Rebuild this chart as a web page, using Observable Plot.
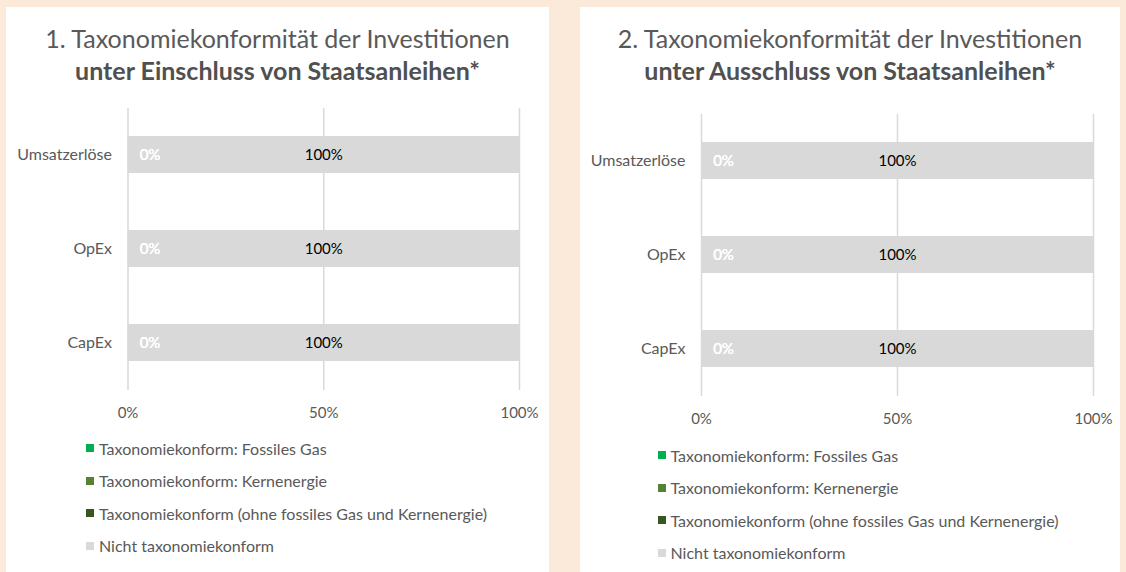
<!DOCTYPE html>
<html><head><meta charset="utf-8">
<script src="https://cdn.jsdelivr.net/npm/d3@7"></script>
<script src="https://cdn.jsdelivr.net/npm/@observablehq/plot@0.6"></script>
<style>
body{margin:0;background:#fbe9da;width:1126px;height:572px;overflow:hidden;font-family:Lato,"Open Sans",sans-serif;position:relative;}
.panel{position:absolute;top:7px;height:565px;background:#fff;}
.title{position:absolute;left:0;right:0;top:15.3px;text-align:center;font-size:25px;line-height:32px;color:#595959;white-space:nowrap;}
.title b{font-weight:700;color:#505050}
.chart{position:absolute;left:0;top:0}
.legend{position:absolute;font-size:16px;color:#595959;white-space:nowrap}
.legend .item{height:32.5px;display:flex;align-items:center}
.legend .sw{width:8px;height:8px;margin-right:5px;flex:none}
</style></head><body>
<script>
// ---- data ----
const categories = ["Umsatzerlöse", "OpEx", "CapEx"];
const seriesNames = [
  "Taxonomiekonform: Fossiles Gas",
  "Taxonomiekonform: Kernenergie",
  "Taxonomiekonform (ohne fossiles Gas und Kernenergie)",
  "Nicht taxonomiekonform"
];
const seriesColors = ["#00b050", "#548235", "#375623", "#d9d9d9"];
const xTicks = [0, 50, 100];

const panel1Title = ["1. Taxonomiekonformität der Investitionen", "unter Einschluss von Staatsanleihen*"];
const panel1FossilGas = [0, 0, 0];
const panel1Nuclear = [0, 0, 0];
const panel1Aligned = [0, 0, 0];
const panel1NotAligned = [100, 100, 100];

const panel2Title = ["2. Taxonomiekonformität der Investitionen", "unter Ausschluss von Staatsanleihen*"];
const panel2FossilGas = [0, 0, 0];
const panel2Nuclear = [0, 0, 0];
const panel2Aligned = [0, 0, 0];
const panel2NotAligned = [100, 100, 100];

// ---- build ----
function rowsFrom(seriesValues) {
  const rows = [];
  seriesValues.forEach((vals, si) => {
    categories.forEach((c, ci) => rows.push({category: c, series: seriesNames[si], value: vals[ci]}));
  });
  return rows;
}

function makePanel(cfg) {
  const panel = document.createElement("div");
  panel.className = "panel";
  panel.style.left = cfg.left + "px";
  panel.style.width = cfg.width + "px";
  document.body.appendChild(panel);

  const rows = rowsFrom(cfg.series);
  const band = 282;
  const chart = Plot.plot({
    width: cfg.width,
    height: cfg.marginTop + band + 47,
    marginLeft: cfg.marginLeft,
    marginRight: cfg.marginRight,
    marginTop: cfg.marginTop,
    marginBottom: 47,
    style: {fontFamily: "Lato, 'Open Sans', sans-serif", fontSize: "15px", color: "#595959", background: "transparent", overflow: "visible"},
    x: {domain: [0, 100]},
    y: {domain: categories, paddingInner: 0.606, paddingOuter: 0.303},
    color: {domain: seriesNames, range: seriesColors},
    marks: [
      Plot.gridX({ticks: xTicks, stroke: "#d9d9d9", strokeOpacity: 1, strokeWidth: 1.5}),
      Plot.barX(rows, Plot.stackX({x: "value", y: "category", fill: "series", order: seriesNames})),
      Plot.text(rows, Plot.stackX({x: "value", y: "category", z: "series", order: seriesNames,
        text: d => d.value > 0 ? d.value + "%" : null, fill: "#000", fontSize: 15})),
      Plot.text(rows, Plot.stackX({x: "value", y: "category", z: "series", order: seriesNames,
        text: d => d.value === 0 ? d.value + "%" : null, fill: "#ffffff", dx: 22, fontSize: 15})),
      Plot.axisX({ticks: xTicks, tickFormat: d => d + "%", tickSize: 0, tickPadding: 17, label: null, fontSize: 15}),
      Plot.axisY({tickSize: 0, tickPadding: 16, label: null, fontSize: 16})
    ]
  });
  chart.classList.add("chart");
  panel.appendChild(chart);

  const title = document.createElement("div");
  title.className = "title";
  title.appendChild(document.createTextNode(cfg.title[0]));
  title.appendChild(document.createElement("br"));
  const b = document.createElement("b");
  b.textContent = cfg.title[1];
  title.appendChild(b);
  panel.appendChild(title);

  const legend = document.createElement("div");
  legend.className = "legend";
  legend.style.left = cfg.legendLeft + "px";
  legend.style.top = cfg.legendTop + "px";
  seriesNames.forEach((n, i) => {
    const item = document.createElement("div");
    item.className = "item";
    const sw = document.createElement("span");
    sw.className = "sw";
    sw.style.background = seriesColors[i];
    item.appendChild(sw);
    item.appendChild(document.createTextNode(n));
    legend.appendChild(item);
  });
  panel.appendChild(legend);
}

makePanel({left: 6, width: 543, marginLeft: 121.5, marginRight: 30, marginTop: 101,
  title: panel1Title, series: [panel1FossilGas, panel1Nuclear, panel1Aligned, panel1NotAligned],
  legendLeft: 80, legendTop: 424.75});
makePanel({left: 580, width: 540, marginLeft: 121, marginRight: 27, marginTop: 107,
  title: panel2Title, series: [panel2FossilGas, panel2Nuclear, panel2Aligned, panel2NotAligned],
  legendLeft: 77.5, legendTop: 431.75});
</script>
</body></html>
